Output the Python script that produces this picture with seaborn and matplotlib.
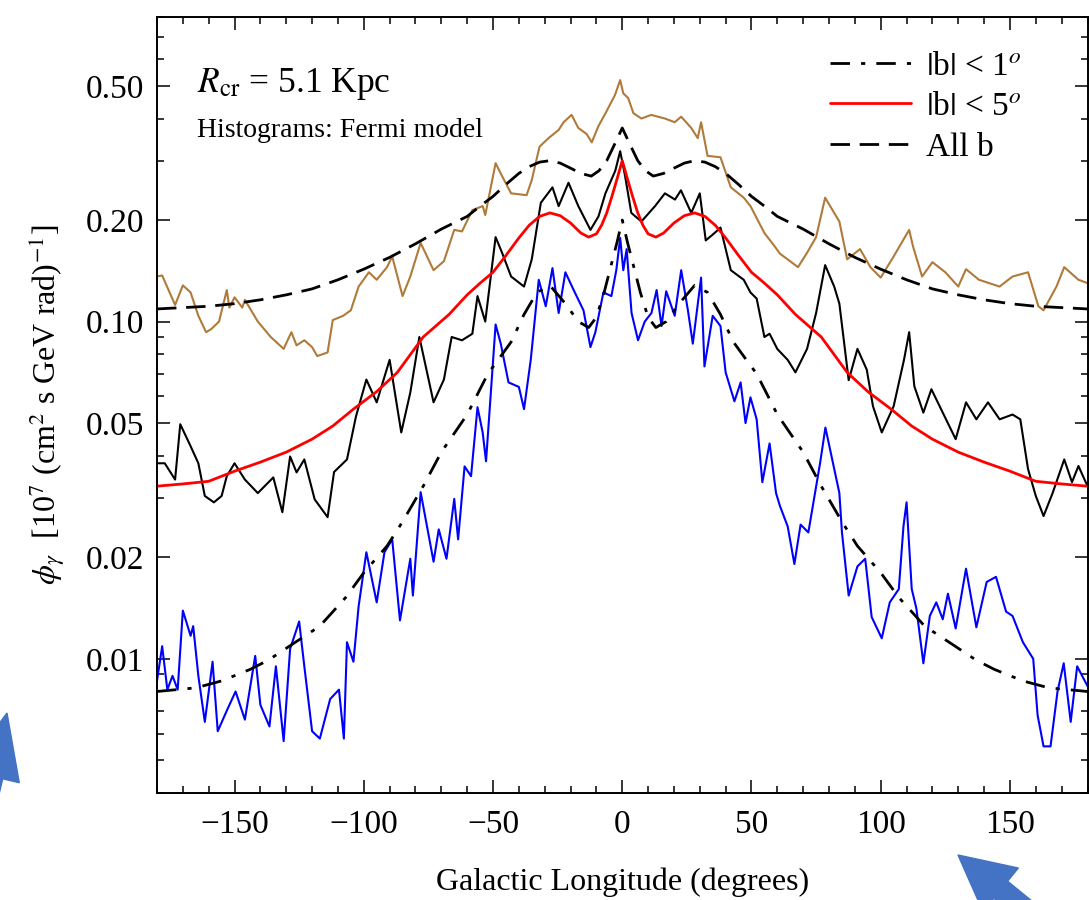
import numpy as np
import pandas as pd
import matplotlib
matplotlib.use("Agg")
import matplotlib.pyplot as plt
import matplotlib.ticker as mticker
from matplotlib.patches import FancyArrow
import seaborn as sns

# ---------------- data ----------------
brown_x = [-180, -178, -173, -170, -167, -164, -161, -159, -156, -153, -152, -150, -147, -146, -141,
           -136, -131, -128, -126, -123, -120, -118, -114, -112, -108, -105, -102, -98, -95, -91,
           -89, -85, -82, -78, -73, -69, -65, -62, -58, -54, -53, -49, -46.5, -43, -37, -35, -32,
           -28.5, -24.6, -22.7, -19.6, -17, -13.8, -11.8, -9.2, -6.1, -2.8, -0.8, 0.4, 2.3, 4.3,
           7.4, 11.2, 16.5, 20.3, 22.8, 26.7, 29.2, 30.5, 33, 38, 42, 47, 49.6, 55, 59, 61, 68,
           71.5, 75, 78.5, 82, 84, 87, 92, 96, 100, 105, 111, 112.5, 116, 120, 125, 130, 133,
           138, 146, 151, 157, 161, 163, 168, 171, 176.5, 180]
brown_y = [0.136, 0.137, 0.112, 0.128, 0.122, 0.104, 0.093, 0.095, 0.100, 0.124, 0.110, 0.118, 0.110,
           0.116, 0.100, 0.090, 0.083, 0.093, 0.085, 0.088, 0.084, 0.079, 0.081, 0.101, 0.104, 0.108,
           0.127, 0.140, 0.133, 0.145, 0.156, 0.119, 0.136, 0.171, 0.142, 0.151, 0.187, 0.185, 0.214,
           0.220, 0.207, 0.295, 0.270, 0.240, 0.237, 0.263, 0.330, 0.350, 0.370, 0.390, 0.410, 0.375,
           0.360, 0.340, 0.380, 0.420, 0.470, 0.520, 0.475, 0.460, 0.415, 0.400, 0.410, 0.400, 0.390,
           0.405, 0.375, 0.350, 0.390, 0.310, 0.307, 0.250, 0.233, 0.220, 0.183, 0.167, 0.159, 0.145,
           0.160, 0.178, 0.233, 0.210, 0.198, 0.153, 0.164, 0.145, 0.135, 0.156, 0.187, 0.167, 0.136,
           0.150, 0.140, 0.127, 0.143, 0.133, 0.127, 0.136, 0.140, 0.111, 0.108, 0.127, 0.145, 0.133,
           0.130]

black_x = [-180, -177, -173, -171, -167, -164, -161.5, -158, -155, -153, -150, -146, -141, -135,
           -131.5, -128.5, -126, -123, -119, -114, -111.5, -106.5, -103, -99, -95, -90, -85.5, -82,
           -78.5, -73, -69, -66, -62, -58, -56, -53, -49, -46.5, -43, -38, -35, -31.5, -27, -24.6,
           -20.8, -17, -12.3, -9.2, -6.5, -2.7, -0.8, 1.1, 3.5, 7.4, 12.7, 16.5, 20.4, 22.7, 26.7,
           30, 32.3, 35.7, 38, 42, 47, 49.6, 52, 55, 57, 60, 64, 67, 71.5, 75, 78.5, 82, 84, 87.6,
           91, 94.6, 97, 100.4, 105, 109, 111, 113, 116.5, 119.6, 124, 129, 133, 137, 141.5, 146,
           151, 154, 157, 160, 163, 166.5, 171, 174, 176.5, 180]
black_y = [0.038, 0.038, 0.034, 0.0496, 0.0427, 0.038, 0.0304, 0.0291, 0.0304, 0.0348, 0.038, 0.034,
           0.031, 0.0345, 0.0272, 0.0398, 0.0357, 0.039, 0.0297, 0.0263, 0.0358, 0.039, 0.0524, 0.0673,
           0.0576, 0.077, 0.0469, 0.0616, 0.090, 0.0576, 0.0673, 0.090, 0.088, 0.092, 0.119, 0.100,
           0.178, 0.160, 0.136, 0.127, 0.153, 0.225, 0.250, 0.220, 0.258, 0.220, 0.187, 0.205, 0.240,
           0.280, 0.320, 0.270, 0.210, 0.198, 0.220, 0.240, 0.230, 0.245, 0.210, 0.240, 0.174, 0.183,
           0.190, 0.142, 0.133, 0.122, 0.117, 0.090, 0.092, 0.0829, 0.077, 0.0707, 0.083, 0.106, 0.147,
           0.127, 0.113, 0.067, 0.083, 0.072, 0.0561, 0.0469, 0.0561, 0.077, 0.093, 0.0643, 0.0537,
           0.063, 0.0537, 0.0448, 0.0576, 0.0513, 0.0576, 0.0513, 0.053, 0.0513, 0.0365, 0.0304,
           0.0265, 0.031, 0.039, 0.0334, 0.0373, 0.0325]

blue_x = [-180, -178, -176, -174, -172, -170, -167, -166, -164, -161.5, -158.5, -156.5, -152.7, -149.6,
          -146, -142, -140, -136.5, -134, -131, -128.5, -125, -123, -120, -117, -113, -109.6, -107.7,
          -106.5, -104, -102, -99, -95, -92, -89, -86, -82, -81, -78, -73, -71, -68, -65, -63.5, -61,
          -58.5, -56, -54, -52.7, -49, -47, -44, -40, -38, -35.4, -32.3, -29.6, -27, -24.6, -22,
          -18.8, -15, -12.3, -10.4, -7.3, -4.2, -2.3, -0.8, 0.4, 1.7, 3.6, 6.1, 8.7, 11.3, 13.3,
          15.2, 17, 20.3, 22.8, 25.4, 27.3, 30.5, 31.8, 35, 38, 40, 43.4, 45.8, 47.7, 49.6, 52,
          54.2, 57, 59.5, 61, 64, 66.6, 69, 72, 74, 76.6, 78.6, 81, 84, 85, 87.6, 91, 94, 96.5,
          100.4, 103.5, 107, 108.8, 110, 112, 113.8, 116.5, 119, 121.5, 124, 126, 129, 133, 137,
          141, 144.6, 148.5, 151, 155, 159, 160.7, 163, 165.7, 168.4, 170.8, 173.5, 176, 180]
blue_y = [0.0086, 0.0109, 0.0081, 0.0089, 0.0081, 0.0139, 0.0117, 0.0125, 0.0089, 0.0065, 0.0098, 0.0061,
          0.0071, 0.0080, 0.0066, 0.0102, 0.0073, 0.0063, 0.0095, 0.0057, 0.0107, 0.0129, 0.0095, 0.0061,
          0.0058, 0.0076, 0.0081, 0.0058, 0.0112, 0.0098, 0.0143, 0.0207, 0.0147, 0.0207, 0.0226, 0.0130,
          0.0198, 0.0154, 0.0312, 0.0194, 0.0242, 0.0198, 0.0298, 0.0226, 0.0372, 0.0348, 0.0557, 0.0469,
          0.0385, 0.098, 0.086, 0.066, 0.064, 0.055, 0.077, 0.133, 0.111, 0.144, 0.106, 0.140, 0.124,
          0.108, 0.084, 0.093, 0.122, 0.119, 0.142, 0.177, 0.142, 0.164, 0.106, 0.088, 0.100, 0.106,
          0.124, 0.097, 0.123, 0.104, 0.142, 0.108, 0.086, 0.135, 0.0736, 0.104, 0.097, 0.0707, 0.058,
          0.066, 0.050, 0.0596, 0.0513, 0.0334, 0.0435, 0.031, 0.0284, 0.0247, 0.0191, 0.025, 0.0237,
          0.0292, 0.0383, 0.0485, 0.0398, 0.031, 0.0237, 0.0154, 0.0188, 0.0198, 0.0133, 0.0115,
          0.0147, 0.0161, 0.0247, 0.0291, 0.0161, 0.0141, 0.0097, 0.0134, 0.0147, 0.0131, 0.0156,
          0.0123, 0.0185, 0.0124, 0.0169, 0.0175, 0.0138, 0.0134, 0.0112, 0.0100, 0.0068, 0.0055,
          0.0055, 0.0080, 0.0097, 0.0065, 0.0095, 0.0083]

# model curves
allb_x = [-180, -170, -160, -150, -140, -130, -120, -110, -100, -90, -80, -70, -60, -55, -50, -45, -40,
          -36, -32, -28, -24, -20, -16, -12, -9, -6, -3, 0, 3, 6, 9, 12, 16, 20, 24, 28, 32, 36, 40,
          45, 50, 55, 60, 70, 80, 90, 100, 110, 120, 130, 140, 150, 160, 170, 180]
allb_y = [0.109, 0.110, 0.111, 0.113, 0.116, 0.120, 0.125, 0.133, 0.143, 0.155, 0.170, 0.188, 0.205,
          0.220, 0.235, 0.255, 0.275, 0.288, 0.297, 0.300, 0.295, 0.285, 0.275, 0.270, 0.280, 0.300,
          0.335, 0.375, 0.335, 0.300, 0.280, 0.270, 0.275, 0.285, 0.295, 0.300, 0.297, 0.288, 0.275,
          0.255, 0.235, 0.220, 0.205, 0.188, 0.170, 0.155, 0.143, 0.133, 0.125, 0.120, 0.116, 0.113,
          0.111, 0.110, 0.109]

b5_x = [-180, -170, -160, -150, -140, -130, -120, -112, -104, -95, -87, -77, -67, -60, -55, -50, -45,
        -40, -36, -32, -28, -24, -20, -16, -13, -10, -8, -6, -4, -2, 0, 2, 4, 6, 8, 10, 13, 16, 20,
        24, 28, 32, 36, 40, 45, 50, 55, 60, 67, 77, 87, 95, 104, 112, 120, 130, 140, 150, 160, 170, 180]
b5_y = [0.0325, 0.033, 0.0336, 0.036, 0.0383, 0.041, 0.0448, 0.049, 0.055, 0.062, 0.0707, 0.090, 0.105,
        0.120, 0.130, 0.140, 0.157, 0.177, 0.193, 0.205, 0.210, 0.206, 0.196, 0.183, 0.178, 0.182,
        0.193, 0.210, 0.235, 0.265, 0.300, 0.265, 0.235, 0.210, 0.193, 0.182, 0.178, 0.183, 0.196,
        0.206, 0.210, 0.205, 0.193, 0.177, 0.157, 0.140, 0.130, 0.120, 0.105, 0.090, 0.0707, 0.062,
        0.055, 0.049, 0.0448, 0.041, 0.0383, 0.036, 0.0336, 0.033, 0.0325]

b1_x = [-180, -165, -155, -144, -137, -128, -117, -107, -100, -91, -85, -77, -70, -60, -52, -48, -43,
        -38, -33, -28, -22, -17, -13, -10, -7, -4, -2, 0, 2, 4, 7, 10, 13, 17, 22, 28, 33, 38, 43, 48,
        52, 60, 70, 77, 85, 91, 100, 107, 117, 128, 137, 144, 155, 165, 180]
b1_y = [0.0080, 0.0082, 0.0086, 0.0093, 0.0099, 0.0110, 0.0125, 0.0152, 0.0180, 0.0216, 0.0255, 0.0325,
        0.041, 0.053, 0.070, 0.077, 0.087, 0.105, 0.122, 0.128, 0.113, 0.100, 0.096, 0.103, 0.122,
        0.150, 0.172, 0.200, 0.172, 0.150, 0.122, 0.103, 0.096, 0.100, 0.113, 0.128, 0.122, 0.105,
        0.087, 0.077, 0.070, 0.053, 0.041, 0.0325, 0.0255, 0.0216, 0.0180, 0.0152, 0.0125, 0.0110,
        0.0099, 0.0093, 0.0086, 0.0082, 0.0080]

yticks = [0.01, 0.02, 0.05, 0.10, 0.20, 0.50]
ytick_labels = ["0.01", "0.02", "0.05", "0.10", "0.20", "0.50"]
xticks = [-150, -100, -50, 0, 50, 100, 150]

# ---------------- style ----------------
sns.set_theme(style="ticks")
plt.rcParams["font.family"] = ["Liberation Serif", "DejaVu Serif"]
plt.rcParams["mathtext.fontset"] = "stix"
plt.rcParams["axes.linewidth"] = 1.4
for key in ["text.color", "axes.labelcolor", "xtick.color", "ytick.color", "axes.edgecolor"]:
    plt.rcParams[key] = "black"

fig = plt.figure(figsize=(10.89, 9), dpi=100)
ax = fig.add_axes([157 / 1089, 1 - 793 / 900, (1087.5 - 157) / 1089, (793 - 17) / 900])

BROWN = "#B07A3A"

def draw(xs, ys, **kw):
    df = pd.DataFrame({"l": xs, "phi": ys})
    sns.lineplot(data=df, x="l", y="phi", ax=ax, estimator=None, sort=False, **kw)

draw(brown_x, brown_y, color=BROWN, lw=1.5)
draw(black_x, black_y, color="black", lw=1.5)
draw(blue_x, blue_y, color="#0000FF", lw=1.5)
draw(b1_x, b1_y, color="black", lw=2.0, linestyle=(0, (7, 4, 1.5, 4)), label=r"$|$b$|$ < 1$^o$")
draw(b5_x, b5_y, color="#FF0000", lw=2.0, label=r"$|$b$|$ < 5$^o$")
draw(allb_x, allb_y, color="black", lw=2.0, linestyle=(0, (7, 3.5)), label="All b")

ax.set_yscale("log")
ax.set_xlim(-180, 180)
ax.set_ylim(0.004, 0.8)
ax.set_yticks(yticks)
ax.set_yticklabels(ytick_labels)
ax.yaxis.set_minor_locator(mticker.LogLocator(base=10, subs=np.arange(2, 10)))
ax.yaxis.set_minor_formatter(mticker.NullFormatter())
ax.set_xticks(xticks)
ax.xaxis.set_minor_locator(mticker.MultipleLocator(10))

ax.tick_params(which="both", direction="in", top=True, right=True, labelsize=24, width=1.1)
ax.tick_params(which="major", length=9.5, pad=9)
ax.tick_params(axis="x", which="major", pad=12)
ax.tick_params(which="minor", length=5)

ax.set_xlabel("Galactic Longitude (degrees)", fontsize=23, labelpad=20)
ax.set_ylabel(r"$\phi_\gamma$  [10$^7$ (cm$^2$ s GeV rad)$^{-1}$]", fontsize=23, labelpad=14)

ax.text(0.043, 0.903, r"$R_{\rm cr}$ = 5.1 Kpc", transform=ax.transAxes, fontsize=25.5, va="baseline")
ax.text(0.043, 0.845, "Histograms: Fermi model", transform=ax.transAxes, fontsize=20, va="baseline")

leg = ax.legend(loc="upper left", bbox_to_anchor=(0.723, 0.956), frameon=False, fontsize=24,
                handlelength=2.45, borderaxespad=0.0, borderpad=0.0, labelspacing=0.3,
                handletextpad=0.45)

# decorative blue arrows
ARROW = "#4472C4"
fig.add_artist(FancyArrow(10.82, -0.56, -1.24, 1.01, width=0.22, head_width=0.56, head_length=0.55,
                          length_includes_head=True, color=ARROW, transform=fig.dpi_scale_trans,
                          clip_on=False))
fig.add_artist(FancyArrow(-0.30, 0.31, 0.37, 1.56, width=0.22, head_width=0.56, head_length=0.65,
                          length_includes_head=True, color=ARROW, transform=fig.dpi_scale_trans,
                          clip_on=False))

fig.savefig("out.png", dpi=100)
